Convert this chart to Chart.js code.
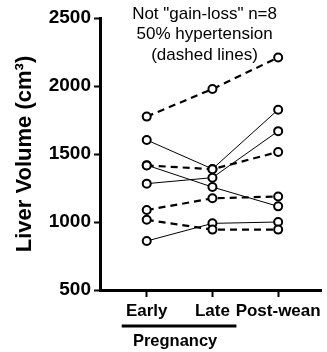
<!DOCTYPE html>
<html>
<head>
<meta charset="utf-8">
<script src="https://cdn.jsdelivr.net/npm/chart.js@4.4.0/dist/chart.umd.min.js"></script>
<style>
  html, body { margin: 0; padding: 0; background: #fff; }
  #wrap { width: 327px; height: 352px; }
</style>
</head>
<body>
<div id="wrap"><canvas id="liverChart"></canvas></div>
<script>
// categorias do eixo x
const categories = ["Early", "Late", "Post-wean"];
const yTicks = [500, 1000, 1500, 2000, 2500];
const titleLines = ['Not "gain-loss" n=8', "50% hypertension", "(dashed lines)"];

// hipertensão (linhas tracejadas)
const dashed1 = [1775, 1978, 2210];
const dashed2 = [1416, 1388, 1515];
const dashed3 = [1088, 1174, 1188];
const dashed4 = [1016, 944, 944];

// sem hipertensão (linhas contínuas)
const solid1 = [1603, 1390, 1826];
const solid2 = [1418, 1257, 1115];
const solid3 = [1282, 1326, 1668];
const solid4 = [860, 990, 1000];

const FONT = "Arial, 'Liberation Sans', sans-serif";

function toPoints(values) {
  return values.map((v, i) => ({ x: i, y: v }));
}

function makeSet(values, dashed) {
  return {
    data: toPoints(values),
    borderColor: "#000",
    borderWidth: dashed ? 2.2 : 1,
    borderDash: dashed ? [7, 5] : [],
    pointRadius: 4,
    pointBorderWidth: 2,
    pointBorderColor: "#000",
    pointBackgroundColor: "#fff",
    fill: false,
    tension: 0
  };
}

const datasets = [
  makeSet(dashed1, true), makeSet(dashed2, true), makeSet(dashed3, true), makeSet(dashed4, true),
  makeSet(solid1, false), makeSet(solid2, false), makeSet(solid3, false), makeSet(solid4, false)
];

// título e "Pregnancy" desenhados à mão
const extras = {
  id: "extras",
  afterDraw(chart) {
    const ctx = chart.ctx;
    const x = chart.scales.x;
    const area = chart.chartArea;
    ctx.save();
    ctx.fillStyle = "#000";
    ctx.textAlign = "center";
    ctx.textBaseline = "middle";
    ctx.font = "17px " + FONT;
    const cx = x.getPixelForValue(0.88);
    titleLines.forEach((line, i) => {
      ctx.fillText(line, cx, area.top - 4 + i * 20.5);
    });

    // barra da gravidez
    const x0 = x.getPixelForValue(0) - 25;
    const x1 = x.getPixelForValue(1) + 24;
    ctx.strokeStyle = "#000";
    ctx.lineWidth = 3;
    ctx.beginPath();
    ctx.moveTo(x0, area.bottom + 36);
    ctx.lineTo(x1, area.bottom + 36);
    ctx.stroke();

    ctx.font = "bold 16.5px " + FONT;
    ctx.textBaseline = "alphabetic";
    ctx.fillText("Pregnancy", (x0 + x1) / 2 - 4, area.bottom + 56);
    ctx.restore();
  }
};

new Chart(document.getElementById("liverChart"), {
  type: "line",
  data: { datasets },
  plugins: [extras],
  options: {
    responsive: true,
    maintainAspectRatio: false,
    animation: false,
    layout: { padding: { top: 18, right: 0, bottom: 0, left: 0 } },
    plugins: { legend: { display: false }, tooltip: { enabled: false }, title: { display: false } },
    scales: {
      x: {
        type: "linear",
        min: -0.711,
        max: 2.652,
        afterBuildTicks: (s) => { s.ticks = categories.map((c, i) => ({ value: i })); },
        afterFit: (s) => { s.height = 62; },
        ticks: {
          callback: (v) => categories[v],
          color: "#000",
          font: { family: FONT, size: 17, weight: "bold" },
          padding: 4,
          maxRotation: 0,
          autoSkip: false
        },
        grid: { drawOnChartArea: false, drawTicks: true, tickLength: 7, tickWidth: 2, tickColor: "#000" },
        border: { display: true, color: "#000", width: 3 }
      },
      y: {
        min: 500,
        max: 2500,
        afterBuildTicks: (s) => { s.ticks = yTicks.map(v => ({ value: v })); },
        afterFit: (s) => { s.width = 100; },
        ticks: {
          callback: (v) => String(v),
          color: "#000",
          font: { family: FONT, size: 19, weight: "bold" },
          padding: 3
        },
        grid: { drawOnChartArea: false, drawTicks: true, tickLength: 6, tickWidth: 2, tickColor: "#000" },
        border: { display: true, color: "#000", width: 3 },
        title: {
          display: true,
          text: "Liver Volume (cm³)",
          color: "#000",
          font: { family: FONT, size: 22, weight: "bold" },
          padding: { top: 12, bottom: 0 }
        }
      }
    }
  }
});
</script>
</body>
</html>
